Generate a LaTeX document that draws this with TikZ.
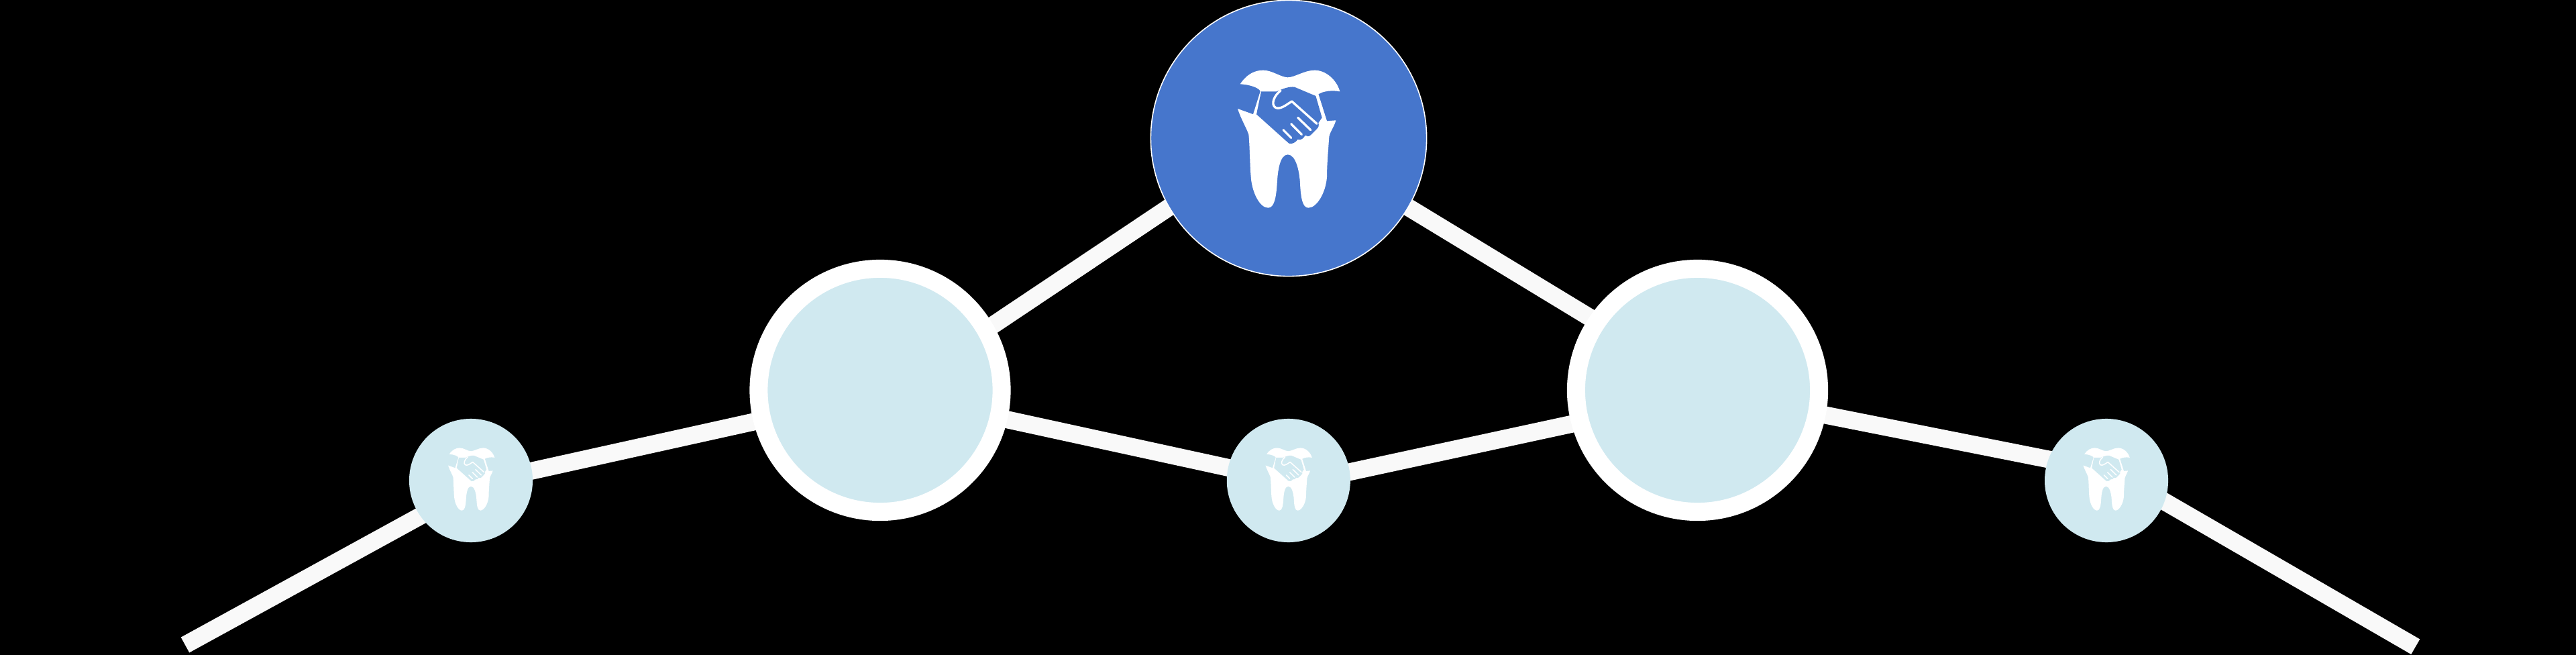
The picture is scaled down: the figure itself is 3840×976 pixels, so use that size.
\documentclass[tikz,border=0pt]{standalone}
\usetikzlibrary{backgrounds}
\definecolor{paleblue}{HTML}{D0E9F0}
\definecolor{topblue}{HTML}{4676CC}
\definecolor{spokegray}{HTML}{F9F9F9}
\tikzset{
  smallnode/.style={circle,fill=paleblue,inner sep=0pt,minimum size=1.84cm},
  bignode/.style={circle,fill=paleblue,draw=white,line width=.27cm,inner sep=0pt,minimum size=3.62cm},
  topnode/.style={circle,fill=topblue,draw=white,line width=.016cm,inner sep=0pt,minimum size=4.11cm},
  spoke/.style={draw=spokegray,line width=.26cm},
  hidestart/.style={shorten <=-2mm},
  hideend/.style={shorten >=-2mm}
}
% #1 x, #2 y, #3 size, #4 colour of the hands
\newcommand{\toothicon}[4]{
\begin{scope}[shift={(#1,#2)},scale=#3/3,shift={(-664,-620)}]
\fill[white] (447,375) .. controls (478,328) and (515,313) .. (550,313)
  .. controls (590,313) and (630,345) .. (660,345)
  .. controls (690,345) and (735,313) .. (780,313)
  .. controls (830,313) and (878,355) .. (893,408)
  .. controls (860,402) and (820,405) .. (797,420)
  -- (835,540) -- (875,537) .. controls (868,565) and (850,585) .. (845,610)
  .. controls (840,680) and (835,740) .. (835,790)
  .. controls (830,860) and (790,928) .. (752,928)
  .. controls (725,928) and (718,880) .. (715,820)
  .. controls (712,760) and (695,690) .. (660,690)
  .. controls (625,690) and (615,760) .. (612,820)
  .. controls (608,880) and (600,928) .. (572,928)
  .. controls (535,928) and (500,860) .. (495,790)
  .. controls (490,730) and (490,650) .. (485,600)
  .. controls (475,570) and (450,530) .. (436,485)
  -- (505,510) -- (537,408) .. controls (535,395) and (500,378) .. (447,375) -- cycle;
\fill[#4] (541,408) -- (610,408) .. controls (640,395) and (665,385) .. (690,388)
  -- (785,428) -- (813,525) -- (797,548) .. controls (800,560) and (798,568) .. (790,575)
  -- (762,603) .. controls (755,610) and (745,610) .. (738,604)
  .. controls (730,618) and (718,628) .. (705,622)
  .. controls (695,635) and (680,645) .. (665,640) -- (520,510) -- cycle;
\draw[white,line width=#3*.95pt,line cap=round,line join=round]
  (628,404) .. controls (600,425) and (582,465) .. (605,480)
  .. controls (625,490) and (650,470) .. (678,452) -- (790,552);
\draw[white,line width=#3*.95pt,line cap=round] (640,580) -- (675,615);
\draw[white,line width=#3*.95pt,line cap=round] (675,553) -- (722,600);
\draw[white,line width=#3*.95pt,line cap=round] (705,525) -- (762,580);
\end{scope}
}
\begin{document}
\begin{tikzpicture}[x=.01cm,y=-.01cm]
\useasboundingbox (0,0) rectangle (3840,976);
\node[topnode] (top) at (1921,206) {};
\node[bignode] (bigL) at (1312,581.5) {};
\node[bignode] (bigR) at (2530.5,581.5) {};
\node[smallnode] (smallL) at (702,716) {};
\node[smallnode] (smallM) at (1920.8,716) {};
\node[smallnode] (smallR) at (3140,716) {};
\coordinate (endL) at (276,961);
\coordinate (endR) at (3600.7,963.7);
\begin{scope}[on background layer]
\fill[black] (0,0) rectangle (3840,976);
\draw[spoke,hideend] (endL) -- (smallL.215);
\draw[spoke,hidestart,hideend] (smallL.9) -- (bigL.194.6);
\draw[spoke,hidestart,hideend] (bigL.30.9) -- (top.210.3);
\draw[spoke,hidestart,hideend] (top.-30.5) -- (bigR.146.3);
\draw[spoke,hidestart,hideend] (bigL.-13.6) -- (smallM.168.4);
\draw[spoke,hidestart,hideend] (smallM.8.5) -- (bigR.195.4);
\draw[spoke,hidestart,hideend] (bigR.-11.6) -- (smallR.160.3);
\draw[spoke,hidestart] (smallR.-20) -- (endR);
\end{scope}
\toothicon{1921}{207}{1}{topblue}
\toothicon{702.6}{714}{.455}{paleblue}
\toothicon{1921}{714}{.455}{paleblue}
\toothicon{3140}{714}{.455}{paleblue}
\end{tikzpicture}
\end{document}
